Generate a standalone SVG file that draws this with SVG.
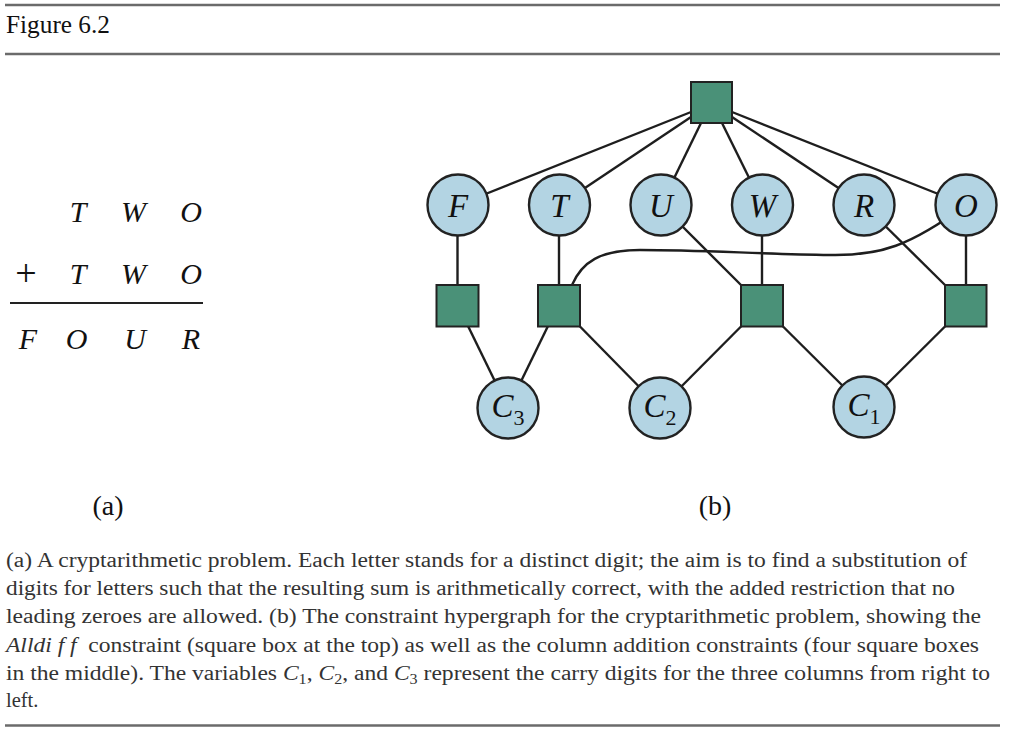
<svg xmlns="http://www.w3.org/2000/svg" width="1012" height="736" viewBox="0 0 1012 736">
<style>
.rule{stroke:#6b6b6b;stroke-width:2.6;fill:none}
.edge{stroke:#1e1e1e;stroke-width:2.4;fill:none}
.var{fill:#b3d4e3;stroke:#222;stroke-width:2.4}
.con{fill:#4a9178;stroke:#222;stroke-width:2}
.lbl{font-family:"Liberation Serif",serif;font-style:italic;font-size:33px;fill:#111;text-anchor:middle}
.sub{font-style:normal;font-size:22px}
.math{font-family:"Liberation Serif",serif;font-style:italic;font-size:30px;fill:#111;text-anchor:middle}
.plus{font-family:"Liberation Serif",serif;font-size:38px;fill:#111;text-anchor:middle}
.cap{font-family:"Liberation Serif",serif;font-size:20.5px;fill:#333}
.panel{font-family:"Liberation Serif",serif;font-size:28px;fill:#111;text-anchor:middle}
</style>
<rect width="1012" height="736" fill="#fff"/>
<line class="rule" x1="5" y1="5" x2="1000" y2="5"/>
<line class="rule" x1="5" y1="54" x2="1000" y2="54"/>
<line class="rule" x1="5" y1="725.5" x2="1000" y2="725.5"/>
<text x="6" y="33" font-family="'Liberation Serif',serif" font-size="26" fill="#111" textLength="104" lengthAdjust="spacingAndGlyphs">Figure 6.2</text>

<g id="sum">
<text class="math" x="78" y="222">T</text>
<text class="math" x="133.5" y="222">W</text>
<text class="math" x="191" y="222">O</text>
<text class="plus" x="26" y="286">+</text>
<text class="math" x="78" y="284">T</text>
<text class="math" x="133.5" y="284">W</text>
<text class="math" x="191" y="284">O</text>
<line x1="10" y1="303" x2="203" y2="303" stroke="#222" stroke-width="2"/>
<text class="math" x="28" y="349">F</text>
<text class="math" x="76.5" y="349">O</text>
<text class="math" x="135" y="349">U</text>
<text class="math" x="191" y="349">R</text>
</g>

<g id="connectors">
<line class="edge" x1="691" y1="112" x2="458" y2="205"/>
<line class="edge" x1="691" y1="117" x2="559.5" y2="205"/>
<line class="edge" x1="701" y1="123" x2="661" y2="205"/>
<line class="edge" x1="722" y1="123" x2="762.5" y2="205"/>
<line class="edge" x1="732" y1="117" x2="864" y2="205"/>
<line class="edge" x1="732" y1="112" x2="966" y2="205"/>
<line class="edge" x1="457.5" y1="205" x2="457.5" y2="286"/>
<line class="edge" x1="559" y1="205" x2="559" y2="286"/>
<line class="edge" x1="762" y1="205" x2="762" y2="286"/>
<line class="edge" x1="966" y1="205" x2="966" y2="286"/>
<line class="edge" x1="661" y1="205" x2="741.5" y2="285.5"/>
<line class="edge" x1="864" y1="205" x2="945.5" y2="285.5"/>
<path class="edge" d="M572,285 C582,262 600,250 640,250 C700,250 760,254 830,255 C880,256 910,246 966,205"/>
<line class="edge" x1="468" y1="326" x2="508" y2="408"/>
<line class="edge" x1="548" y1="326" x2="508" y2="408"/>
<line class="edge" x1="579.5" y1="326" x2="660" y2="408"/>
<line class="edge" x1="741.5" y1="326" x2="660" y2="408"/>
<line class="edge" x1="782.5" y1="326" x2="864" y2="407"/>
<line class="edge" x1="945.5" y1="326" x2="864" y2="407"/>
</g>

<g id="alldiff"><rect class="con" x="691" y="82" width="41" height="41"/></g>
<g id="col4"><rect class="con" x="436.5" y="285" width="42" height="41.5"/></g>
<g id="col3"><rect class="con" x="538" y="285" width="42" height="41.5"/></g>
<g id="col2"><rect class="con" x="741" y="285" width="42" height="41.5"/></g>
<g id="col1"><rect class="con" x="945" y="285" width="41.5" height="41.5"/></g>

<g id="F"><circle class="var" cx="458" cy="205" r="30.5"/><text class="lbl" x="458" y="216.5">F</text></g>
<g id="T"><circle class="var" cx="559.5" cy="205" r="30.5"/><text class="lbl" x="559.5" y="216.5">T</text></g>
<g id="U"><circle class="var" cx="661" cy="205" r="30.5"/><text class="lbl" x="661" y="216.5">U</text></g>
<g id="W"><circle class="var" cx="762.5" cy="205" r="30.5"/><text class="lbl" x="762.5" y="216.5">W</text></g>
<g id="R"><circle class="var" cx="864" cy="205" r="30.5"/><text class="lbl" x="864" y="216.5">R</text></g>
<g id="O"><circle class="var" cx="966" cy="205" r="30.5"/><text class="lbl" x="966" y="216.5">O</text></g>

<g id="C3"><circle class="var" cx="508" cy="408" r="30.5"/><text class="lbl" x="508" y="417">C<tspan class="sub" dy="8">3</tspan></text></g>
<g id="C2"><circle class="var" cx="660" cy="408" r="30.5"/><text class="lbl" x="660" y="417">C<tspan class="sub" dy="8">2</tspan></text></g>
<g id="C1"><circle class="var" cx="864" cy="407" r="30.5"/><text class="lbl" x="864" y="416">C<tspan class="sub" dy="8">1</tspan></text></g>

<text class="panel" x="108" y="515">(a)</text>
<text class="panel" x="715" y="515">(b)</text>

<g id="caption">
<text class="cap" x="6" y="566.5" textLength="961" lengthAdjust="spacingAndGlyphs">(a) A cryptarithmetic problem. Each letter stands for a distinct digit; the aim is to find a substitution of</text>
<text class="cap" x="6" y="595" textLength="949" lengthAdjust="spacingAndGlyphs">digits for letters such that the resulting sum is arithmetically correct, with the added restriction that no</text>
<text class="cap" x="6" y="623.3" textLength="975" lengthAdjust="spacingAndGlyphs">leading zeroes are allowed. (b) The constraint hypergraph for the cryptarithmetic problem, showing the</text>
<text class="cap" x="6" y="651.5" textLength="973" lengthAdjust="spacingAndGlyphs"><tspan font-style="italic">Alldi f f</tspan>&#160; constraint (square box at the top) as well as the column addition constraints (four square boxes</text>
<text class="cap" x="6" y="679.5" textLength="984" lengthAdjust="spacingAndGlyphs">in the middle). The variables <tspan font-style="italic">C</tspan><tspan font-size="14" dy="4">1</tspan><tspan dy="-4">, </tspan><tspan font-style="italic">C</tspan><tspan font-size="14" dy="4">2</tspan><tspan dy="-4">, and </tspan><tspan font-style="italic">C</tspan><tspan font-size="14" dy="4">3</tspan><tspan dy="-4"> represent the carry digits for the three columns from right to</tspan></text>
<text class="cap" x="6" y="707">left.</text>
</g>
</svg>
